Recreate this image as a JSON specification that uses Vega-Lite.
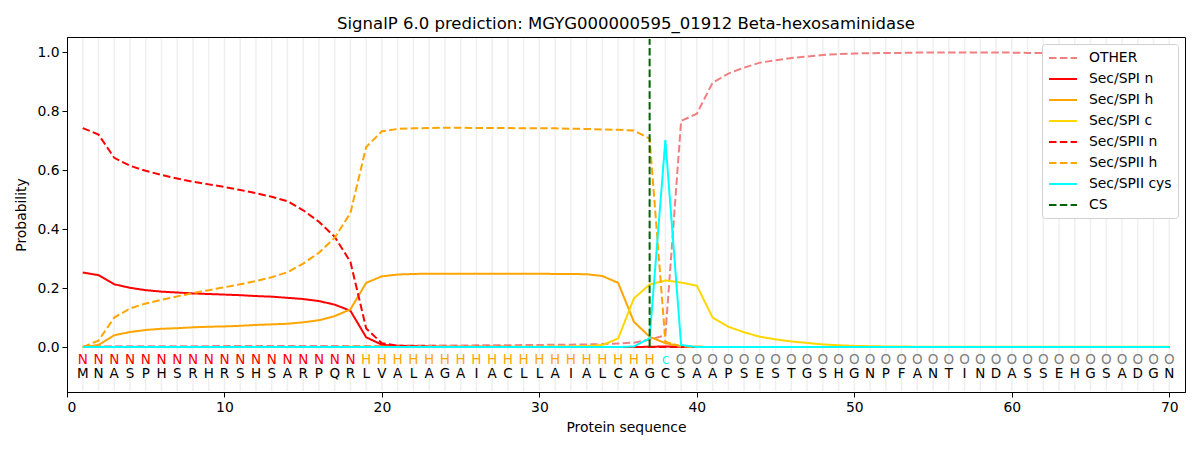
{
  "$schema": "https://vega.github.io/schema/vega-lite/v6.json",
  "width": 1118,
  "height": 355,
  "autosize": {"type": "none"},
  "padding": {"left": 67, "top": 37, "right": 15, "bottom": 58},
  "title": {
    "text": "SignalP 6.0 prediction: MGYG000000595_01912 Beta-hexosaminidase",
    "font": "DejaVu Sans",
    "fontSize": 16.5,
    "fontWeight": "normal",
    "color": "black",
    "anchor": "middle",
    "offset": 5
  },
  "data": {
    "values": [
      {"pos": 1, "aa": "M", "lab": "N", "OTHER": 0.002, "Sec/SPI n": 0.253, "Sec/SPI h": 0.0, "Sec/SPI c": 0.0, "Sec/SPII n": 0.743, "Sec/SPII h": 0.0, "Sec/SPII cys": 0.0},
      {"pos": 2, "aa": "N", "lab": "N", "OTHER": 0.003, "Sec/SPI n": 0.244, "Sec/SPI h": 0.007, "Sec/SPI c": 0.0, "Sec/SPII n": 0.721, "Sec/SPII h": 0.022, "Sec/SPII cys": 0.0},
      {"pos": 3, "aa": "A", "lab": "N", "OTHER": 0.003, "Sec/SPI n": 0.213, "Sec/SPI h": 0.040, "Sec/SPI c": 0.0, "Sec/SPII n": 0.642, "Sec/SPII h": 0.100, "Sec/SPII cys": 0.0},
      {"pos": 4, "aa": "S", "lab": "N", "OTHER": 0.003, "Sec/SPI n": 0.201, "Sec/SPI h": 0.051, "Sec/SPI c": 0.0, "Sec/SPII n": 0.615, "Sec/SPII h": 0.131, "Sec/SPII cys": 0.0},
      {"pos": 5, "aa": "P", "lab": "N", "OTHER": 0.003, "Sec/SPI n": 0.193, "Sec/SPI h": 0.058, "Sec/SPI c": 0.0, "Sec/SPII n": 0.598, "Sec/SPII h": 0.148, "Sec/SPII cys": 0.0},
      {"pos": 6, "aa": "H", "lab": "N", "OTHER": 0.003, "Sec/SPI n": 0.188, "Sec/SPI h": 0.062, "Sec/SPI c": 0.0, "Sec/SPII n": 0.584, "Sec/SPII h": 0.160, "Sec/SPII cys": 0.0},
      {"pos": 7, "aa": "S", "lab": "N", "OTHER": 0.003, "Sec/SPI n": 0.185, "Sec/SPI h": 0.064, "Sec/SPI c": 0.0, "Sec/SPII n": 0.572, "Sec/SPII h": 0.172, "Sec/SPII cys": 0.0},
      {"pos": 8, "aa": "R", "lab": "N", "OTHER": 0.003, "Sec/SPI n": 0.182, "Sec/SPI h": 0.067, "Sec/SPI c": 0.0, "Sec/SPII n": 0.561, "Sec/SPII h": 0.183, "Sec/SPII cys": 0.0},
      {"pos": 9, "aa": "H", "lab": "N", "OTHER": 0.003, "Sec/SPI n": 0.180, "Sec/SPI h": 0.069, "Sec/SPI c": 0.0, "Sec/SPII n": 0.552, "Sec/SPII h": 0.193, "Sec/SPII cys": 0.0},
      {"pos": 10, "aa": "R", "lab": "N", "OTHER": 0.004, "Sec/SPI n": 0.178, "Sec/SPI h": 0.070, "Sec/SPI c": 0.0, "Sec/SPII n": 0.543, "Sec/SPII h": 0.203, "Sec/SPII cys": 0.0},
      {"pos": 11, "aa": "S", "lab": "N", "OTHER": 0.004, "Sec/SPI n": 0.176, "Sec/SPI h": 0.072, "Sec/SPI c": 0.0, "Sec/SPII n": 0.533, "Sec/SPII h": 0.213, "Sec/SPII cys": 0.0},
      {"pos": 12, "aa": "H", "lab": "N", "OTHER": 0.004, "Sec/SPI n": 0.173, "Sec/SPI h": 0.075, "Sec/SPI c": 0.0, "Sec/SPII n": 0.522, "Sec/SPII h": 0.224, "Sec/SPII cys": 0.0},
      {"pos": 13, "aa": "S", "lab": "N", "OTHER": 0.004, "Sec/SPI n": 0.171, "Sec/SPI h": 0.077, "Sec/SPI c": 0.0, "Sec/SPII n": 0.510, "Sec/SPII h": 0.237, "Sec/SPII cys": 0.0},
      {"pos": 14, "aa": "A", "lab": "N", "OTHER": 0.004, "Sec/SPI n": 0.167, "Sec/SPI h": 0.079, "Sec/SPI c": 0.0, "Sec/SPII n": 0.495, "Sec/SPII h": 0.254, "Sec/SPII cys": 0.0},
      {"pos": 15, "aa": "R", "lab": "N", "OTHER": 0.004, "Sec/SPI n": 0.163, "Sec/SPI h": 0.084, "Sec/SPI c": 0.0, "Sec/SPII n": 0.464, "Sec/SPII h": 0.283, "Sec/SPII cys": 0.0},
      {"pos": 16, "aa": "P", "lab": "N", "OTHER": 0.004, "Sec/SPI n": 0.156, "Sec/SPI h": 0.091, "Sec/SPI c": 0.0, "Sec/SPII n": 0.425, "Sec/SPII h": 0.320, "Sec/SPII cys": 0.0},
      {"pos": 17, "aa": "Q", "lab": "N", "OTHER": 0.004, "Sec/SPI n": 0.144, "Sec/SPI h": 0.105, "Sec/SPI c": 0.0, "Sec/SPII n": 0.374, "Sec/SPII h": 0.371, "Sec/SPII cys": 0.0},
      {"pos": 18, "aa": "R", "lab": "N", "OTHER": 0.004, "Sec/SPI n": 0.123, "Sec/SPI h": 0.128, "Sec/SPI c": 0.001, "Sec/SPII n": 0.289, "Sec/SPII h": 0.455, "Sec/SPII cys": 0.0},
      {"pos": 19, "aa": "L", "lab": "H", "OTHER": 0.004, "Sec/SPI n": 0.033, "Sec/SPI h": 0.218, "Sec/SPI c": 0.001, "Sec/SPII n": 0.063, "Sec/SPII h": 0.679, "Sec/SPII cys": 0.0},
      {"pos": 20, "aa": "V", "lab": "H", "OTHER": 0.004, "Sec/SPI n": 0.008, "Sec/SPI h": 0.240, "Sec/SPI c": 0.001, "Sec/SPII n": 0.013, "Sec/SPII h": 0.732, "Sec/SPII cys": 0.0},
      {"pos": 21, "aa": "A", "lab": "H", "OTHER": 0.005, "Sec/SPI n": 0.003, "Sec/SPI h": 0.246, "Sec/SPI c": 0.001, "Sec/SPII n": 0.005, "Sec/SPII h": 0.740, "Sec/SPII cys": 0.0},
      {"pos": 22, "aa": "L", "lab": "H", "OTHER": 0.005, "Sec/SPI n": 0.001, "Sec/SPI h": 0.248, "Sec/SPI c": 0.001, "Sec/SPII n": 0.003, "Sec/SPII h": 0.742, "Sec/SPII cys": 0.0},
      {"pos": 23, "aa": "A", "lab": "H", "OTHER": 0.005, "Sec/SPI n": 0.0, "Sec/SPI h": 0.249, "Sec/SPI c": 0.001, "Sec/SPII n": 0.002, "Sec/SPII h": 0.743, "Sec/SPII cys": 0.0},
      {"pos": 24, "aa": "G", "lab": "H", "OTHER": 0.005, "Sec/SPI n": 0.0, "Sec/SPI h": 0.249, "Sec/SPI c": 0.001, "Sec/SPII n": 0.001, "Sec/SPII h": 0.744, "Sec/SPII cys": 0.0},
      {"pos": 25, "aa": "A", "lab": "H", "OTHER": 0.005, "Sec/SPI n": 0.0, "Sec/SPI h": 0.249, "Sec/SPI c": 0.001, "Sec/SPII n": 0.001, "Sec/SPII h": 0.744, "Sec/SPII cys": 0.0},
      {"pos": 26, "aa": "I", "lab": "H", "OTHER": 0.006, "Sec/SPI n": 0.0, "Sec/SPI h": 0.249, "Sec/SPI c": 0.001, "Sec/SPII n": 0.001, "Sec/SPII h": 0.743, "Sec/SPII cys": 0.0},
      {"pos": 27, "aa": "A", "lab": "H", "OTHER": 0.006, "Sec/SPI n": 0.0, "Sec/SPI h": 0.249, "Sec/SPI c": 0.001, "Sec/SPII n": 0.001, "Sec/SPII h": 0.743, "Sec/SPII cys": 0.0},
      {"pos": 28, "aa": "C", "lab": "H", "OTHER": 0.006, "Sec/SPI n": 0.0, "Sec/SPI h": 0.249, "Sec/SPI c": 0.001, "Sec/SPII n": 0.001, "Sec/SPII h": 0.743, "Sec/SPII cys": 0.0},
      {"pos": 29, "aa": "L", "lab": "H", "OTHER": 0.007, "Sec/SPI n": 0.0, "Sec/SPI h": 0.249, "Sec/SPI c": 0.001, "Sec/SPII n": 0.0, "Sec/SPII h": 0.742, "Sec/SPII cys": 0.0},
      {"pos": 30, "aa": "L", "lab": "H", "OTHER": 0.007, "Sec/SPI n": 0.0, "Sec/SPI h": 0.249, "Sec/SPI c": 0.001, "Sec/SPII n": 0.0, "Sec/SPII h": 0.742, "Sec/SPII cys": 0.0},
      {"pos": 31, "aa": "A", "lab": "H", "OTHER": 0.008, "Sec/SPI n": 0.0, "Sec/SPI h": 0.248, "Sec/SPI c": 0.002, "Sec/SPII n": 0.0, "Sec/SPII h": 0.742, "Sec/SPII cys": 0.0},
      {"pos": 32, "aa": "I", "lab": "H", "OTHER": 0.008, "Sec/SPI n": 0.0, "Sec/SPI h": 0.248, "Sec/SPI c": 0.002, "Sec/SPII n": 0.0, "Sec/SPII h": 0.741, "Sec/SPII cys": 0.0},
      {"pos": 33, "aa": "A", "lab": "H", "OTHER": 0.009, "Sec/SPI n": 0.0, "Sec/SPI h": 0.247, "Sec/SPI c": 0.003, "Sec/SPII n": 0.0, "Sec/SPII h": 0.740, "Sec/SPII cys": 0.0},
      {"pos": 34, "aa": "L", "lab": "H", "OTHER": 0.010, "Sec/SPI n": 0.0, "Sec/SPI h": 0.241, "Sec/SPI c": 0.007, "Sec/SPII n": 0.0, "Sec/SPII h": 0.738, "Sec/SPII cys": 0.0},
      {"pos": 35, "aa": "C", "lab": "H", "OTHER": 0.012, "Sec/SPI n": 0.0, "Sec/SPI h": 0.218, "Sec/SPI c": 0.029, "Sec/SPII n": 0.0, "Sec/SPII h": 0.737, "Sec/SPII cys": 0.0},
      {"pos": 36, "aa": "A", "lab": "H", "OTHER": 0.015, "Sec/SPI n": 0.0, "Sec/SPI h": 0.086, "Sec/SPI c": 0.165, "Sec/SPII n": 0.0, "Sec/SPII h": 0.735, "Sec/SPII cys": 0.002},
      {"pos": 37, "aa": "G", "lab": "H", "OTHER": 0.025, "Sec/SPI n": 0.001, "Sec/SPI h": 0.035, "Sec/SPI c": 0.212, "Sec/SPII n": 0.0, "Sec/SPII h": 0.707, "Sec/SPII cys": 0.030},
      {"pos": 38, "aa": "C", "lab": "c", "OTHER": 0.040, "Sec/SPI n": 0.002, "Sec/SPI h": 0.013, "Sec/SPI c": 0.226, "Sec/SPII n": 0.0, "Sec/SPII h": 0.018, "Sec/SPII cys": 0.702},
      {"pos": 39, "aa": "S", "lab": "O", "OTHER": 0.767, "Sec/SPI n": 0.001, "Sec/SPI h": 0.003, "Sec/SPI c": 0.219, "Sec/SPII n": 0.0, "Sec/SPII h": 0.002, "Sec/SPII cys": 0.007},
      {"pos": 40, "aa": "A", "lab": "O", "OTHER": 0.792, "Sec/SPI n": 0.0, "Sec/SPI h": 0.001, "Sec/SPI c": 0.208, "Sec/SPII n": 0.0, "Sec/SPII h": 0.001, "Sec/SPII cys": 0.0},
      {"pos": 41, "aa": "A", "lab": "O", "OTHER": 0.897, "Sec/SPI n": 0.0, "Sec/SPI h": 0.0, "Sec/SPI c": 0.100, "Sec/SPII n": 0.0, "Sec/SPII h": 0.0, "Sec/SPII cys": 0.0},
      {"pos": 42, "aa": "P", "lab": "O", "OTHER": 0.928, "Sec/SPI n": 0.0, "Sec/SPI h": 0.0, "Sec/SPI c": 0.069, "Sec/SPII n": 0.0, "Sec/SPII h": 0.0, "Sec/SPII cys": 0.0},
      {"pos": 43, "aa": "S", "lab": "O", "OTHER": 0.948, "Sec/SPI n": 0.0, "Sec/SPI h": 0.0, "Sec/SPI c": 0.050, "Sec/SPII n": 0.0, "Sec/SPII h": 0.0, "Sec/SPII cys": 0.0},
      {"pos": 44, "aa": "E", "lab": "O", "OTHER": 0.965, "Sec/SPI n": 0.0, "Sec/SPI h": 0.0, "Sec/SPI c": 0.035, "Sec/SPII n": 0.0, "Sec/SPII h": 0.0, "Sec/SPII cys": 0.0},
      {"pos": 45, "aa": "S", "lab": "O", "OTHER": 0.973, "Sec/SPI n": 0.0, "Sec/SPI h": 0.0, "Sec/SPI c": 0.026, "Sec/SPII n": 0.0, "Sec/SPII h": 0.0, "Sec/SPII cys": 0.0},
      {"pos": 46, "aa": "T", "lab": "O", "OTHER": 0.981, "Sec/SPI n": 0.0, "Sec/SPI h": 0.0, "Sec/SPI c": 0.019, "Sec/SPII n": 0.0, "Sec/SPII h": 0.0, "Sec/SPII cys": 0.0},
      {"pos": 47, "aa": "G", "lab": "O", "OTHER": 0.986, "Sec/SPI n": 0.0, "Sec/SPI h": 0.0, "Sec/SPI c": 0.014, "Sec/SPII n": 0.0, "Sec/SPII h": 0.0, "Sec/SPII cys": 0.0},
      {"pos": 48, "aa": "S", "lab": "O", "OTHER": 0.991, "Sec/SPI n": 0.0, "Sec/SPI h": 0.0, "Sec/SPI c": 0.009, "Sec/SPII n": 0.0, "Sec/SPII h": 0.0, "Sec/SPII cys": 0.0},
      {"pos": 49, "aa": "H", "lab": "O", "OTHER": 0.994, "Sec/SPI n": 0.0, "Sec/SPI h": 0.0, "Sec/SPI c": 0.006, "Sec/SPII n": 0.0, "Sec/SPII h": 0.0, "Sec/SPII cys": 0.0},
      {"pos": 50, "aa": "G", "lab": "O", "OTHER": 0.996, "Sec/SPI n": 0.0, "Sec/SPI h": 0.0, "Sec/SPI c": 0.004, "Sec/SPII n": 0.0, "Sec/SPII h": 0.0, "Sec/SPII cys": 0.0},
      {"pos": 51, "aa": "N", "lab": "O", "OTHER": 0.997, "Sec/SPI n": 0.0, "Sec/SPI h": 0.0, "Sec/SPI c": 0.003, "Sec/SPII n": 0.0, "Sec/SPII h": 0.0, "Sec/SPII cys": 0.0},
      {"pos": 52, "aa": "P", "lab": "O", "OTHER": 0.998, "Sec/SPI n": 0.0, "Sec/SPI h": 0.0, "Sec/SPI c": 0.002, "Sec/SPII n": 0.0, "Sec/SPII h": 0.0, "Sec/SPII cys": 0.0},
      {"pos": 53, "aa": "F", "lab": "O", "OTHER": 0.998, "Sec/SPI n": 0.0, "Sec/SPI h": 0.0, "Sec/SPI c": 0.002, "Sec/SPII n": 0.0, "Sec/SPII h": 0.0, "Sec/SPII cys": 0.0},
      {"pos": 54, "aa": "A", "lab": "O", "OTHER": 0.999, "Sec/SPI n": 0.0, "Sec/SPI h": 0.0, "Sec/SPI c": 0.001, "Sec/SPII n": 0.0, "Sec/SPII h": 0.0, "Sec/SPII cys": 0.0},
      {"pos": 55, "aa": "N", "lab": "O", "OTHER": 0.999, "Sec/SPI n": 0.0, "Sec/SPI h": 0.0, "Sec/SPI c": 0.001, "Sec/SPII n": 0.0, "Sec/SPII h": 0.0, "Sec/SPII cys": 0.0},
      {"pos": 56, "aa": "T", "lab": "O", "OTHER": 0.999, "Sec/SPI n": 0.0, "Sec/SPI h": 0.0, "Sec/SPI c": 0.001, "Sec/SPII n": 0.0, "Sec/SPII h": 0.0, "Sec/SPII cys": 0.0},
      {"pos": 57, "aa": "I", "lab": "O", "OTHER": 0.999, "Sec/SPI n": 0.0, "Sec/SPI h": 0.0, "Sec/SPI c": 0.001, "Sec/SPII n": 0.0, "Sec/SPII h": 0.0, "Sec/SPII cys": 0.0},
      {"pos": 58, "aa": "N", "lab": "O", "OTHER": 0.999, "Sec/SPI n": 0.0, "Sec/SPI h": 0.0, "Sec/SPI c": 0.001, "Sec/SPII n": 0.0, "Sec/SPII h": 0.0, "Sec/SPII cys": 0.0},
      {"pos": 59, "aa": "D", "lab": "O", "OTHER": 0.999, "Sec/SPI n": 0.0, "Sec/SPI h": 0.0, "Sec/SPI c": 0.001, "Sec/SPII n": 0.0, "Sec/SPII h": 0.0, "Sec/SPII cys": 0.0},
      {"pos": 60, "aa": "A", "lab": "O", "OTHER": 0.999, "Sec/SPI n": 0.0, "Sec/SPI h": 0.0, "Sec/SPI c": 0.001, "Sec/SPII n": 0.0, "Sec/SPII h": 0.0, "Sec/SPII cys": 0.0},
      {"pos": 61, "aa": "S", "lab": "O", "OTHER": 0.998, "Sec/SPI n": 0.0, "Sec/SPI h": 0.0, "Sec/SPI c": 0.001, "Sec/SPII n": 0.0, "Sec/SPII h": 0.0, "Sec/SPII cys": 0.0},
      {"pos": 62, "aa": "S", "lab": "O", "OTHER": 0.998, "Sec/SPI n": 0.0, "Sec/SPI h": 0.0, "Sec/SPI c": 0.001, "Sec/SPII n": 0.0, "Sec/SPII h": 0.0, "Sec/SPII cys": 0.0},
      {"pos": 63, "aa": "E", "lab": "O", "OTHER": 0.998, "Sec/SPI n": 0.0, "Sec/SPI h": 0.0, "Sec/SPI c": 0.001, "Sec/SPII n": 0.0, "Sec/SPII h": 0.0, "Sec/SPII cys": 0.0},
      {"pos": 64, "aa": "H", "lab": "O", "OTHER": 0.998, "Sec/SPI n": 0.0, "Sec/SPI h": 0.0, "Sec/SPI c": 0.001, "Sec/SPII n": 0.0, "Sec/SPII h": 0.0, "Sec/SPII cys": 0.0},
      {"pos": 65, "aa": "G", "lab": "O", "OTHER": 0.998, "Sec/SPI n": 0.0, "Sec/SPI h": 0.0, "Sec/SPI c": 0.001, "Sec/SPII n": 0.0, "Sec/SPII h": 0.0, "Sec/SPII cys": 0.0},
      {"pos": 66, "aa": "S", "lab": "O", "OTHER": 0.999, "Sec/SPI n": 0.0, "Sec/SPI h": 0.0, "Sec/SPI c": 0.001, "Sec/SPII n": 0.0, "Sec/SPII h": 0.0, "Sec/SPII cys": 0.0},
      {"pos": 67, "aa": "A", "lab": "O", "OTHER": 0.999, "Sec/SPI n": 0.0, "Sec/SPI h": 0.0, "Sec/SPI c": 0.001, "Sec/SPII n": 0.0, "Sec/SPII h": 0.0, "Sec/SPII cys": 0.0},
      {"pos": 68, "aa": "D", "lab": "O", "OTHER": 0.999, "Sec/SPI n": 0.0, "Sec/SPI h": 0.0, "Sec/SPI c": 0.001, "Sec/SPII n": 0.0, "Sec/SPII h": 0.0, "Sec/SPII cys": 0.0},
      {"pos": 69, "aa": "G", "lab": "O", "OTHER": 0.999, "Sec/SPI n": 0.0, "Sec/SPI h": 0.0, "Sec/SPI c": 0.001, "Sec/SPII n": 0.0, "Sec/SPII h": 0.0, "Sec/SPII cys": 0.0},
      {"pos": 70, "aa": "N", "lab": "O", "OTHER": 0.999, "Sec/SPI n": 0.0, "Sec/SPI h": 0.0, "Sec/SPI c": 0.001, "Sec/SPII n": 0.0, "Sec/SPII h": 0.0, "Sec/SPII cys": 0.0}
    ]
  },
  "layer": [
    {
      "mark": {"type": "rule", "color": "#efefef", "strokeWidth": 1.5},
      "encoding": {
        "x": {"field": "pos", "type": "quantitative"},
        "y": {"datum": -0.149},
        "y2": {"datum": 1.049}
      }
    },
    {
      "transform": [
        {
          "fold": ["OTHER", "Sec/SPI n", "Sec/SPI h", "Sec/SPI c", "Sec/SPII n", "Sec/SPII h", "Sec/SPII cys"],
          "as": ["series", "p"]
        }
      ],
      "mark": {"type": "line", "strokeWidth": 2},
      "encoding": {
        "x": {
          "field": "pos",
          "type": "quantitative",
          "scale": {"domain": [0, 71], "nice": false, "zero": false},
          "axis": {"values": [0, 10, 20, 30, 40, 50, 60, 70], "title": "Protein sequence"}
        },
        "y": {
          "field": "p",
          "type": "quantitative",
          "scale": {"domain": [-0.1525, 1.052], "nice": false, "zero": false},
          "axis": {"values": [0, 0.2, 0.4, 0.6, 0.8, 1.0], "format": ".1f", "title": "Probability"}
        },
        "color": {
          "field": "series",
          "type": "nominal",
          "scale": {
            "domain": ["OTHER", "Sec/SPI n", "Sec/SPI h", "Sec/SPI c", "Sec/SPII n", "Sec/SPII h", "Sec/SPII cys", "CS"],
            "range": ["#f08080", "#ff0000", "#ffa500", "#ffd700", "#ff0000", "#ffa500", "#00ffff", "#006400"]
          },
          "legend": {
            "title": null,
            "orient": "top-right",
            "offset": 7,
            "symbolType": "M-1,0H3",
            "symbolSize": 196,
            "symbolStrokeWidth": 2,
            "labelOffset": 25,
            "rowPadding": 6,
            "padding": 6,
            "fillColor": "white",
            "strokeColor": "#d0d0d0",
            "cornerRadius": 3,
            "labelFont": "DejaVu Sans",
            "labelFontSize": 13.9,
            "labelColor": "black"
          }
        },
        "strokeDash": {
          "field": "series",
          "type": "nominal",
          "scale": {
            "domain": ["OTHER", "Sec/SPI n", "Sec/SPI h", "Sec/SPI c", "Sec/SPII n", "Sec/SPII h", "Sec/SPII cys", "CS"],
            "range": [[7.5, 3.3], [1, 0], [1, 0], [1, 0], [7.5, 3.3], [7.5, 3.3], [1, 0], [7.5, 3.3]]
          },
          "legend": {
            "title": null,
            "orient": "top-right",
            "offset": 7,
            "symbolType": "M-1,0H3",
            "symbolSize": 196,
            "symbolStrokeWidth": 2,
            "labelOffset": 25,
            "rowPadding": 6,
            "padding": 6,
            "fillColor": "white",
            "strokeColor": "#d0d0d0",
            "cornerRadius": 3,
            "labelFont": "DejaVu Sans",
            "labelFontSize": 13.9,
            "labelColor": "black"
          }
        }
      }
    },
    {
      "data": {"values": [{"series": "CS", "pos": 37}]},
      "mark": {"type": "rule", "strokeWidth": 2},
      "encoding": {
        "x": {"field": "pos", "type": "quantitative"},
        "y": {"datum": 0},
        "y2": {"datum": 1.045},
        "color": {"field": "series", "type": "nominal"},
        "strokeDash": {"field": "series", "type": "nominal"}
      }
    },
    {
      "mark": {"type": "text", "font": "DejaVu Sans", "fontSize": 13.5, "baseline": "middle", "align": "center"},
      "encoding": {
        "x": {"field": "pos", "type": "quantitative"},
        "y": {"datum": -0.045},
        "text": {"field": "lab"},
        "color": {
          "condition": [
            {"test": "datum.lab === 'N'", "value": "#ff0000"},
            {"test": "datum.lab === 'H'", "value": "#ffa500"},
            {"test": "datum.lab === 'c'", "value": "#00ffff"}
          ],
          "value": "#808080"
        }
      }
    },
    {
      "mark": {"type": "text", "font": "DejaVu Sans", "fontSize": 13.5, "baseline": "middle", "align": "center", "color": "black"},
      "encoding": {
        "x": {"field": "pos", "type": "quantitative"},
        "y": {"datum": -0.093},
        "text": {"field": "aa"}
      }
    }
  ],
  "config": {
    "view": {"stroke": "black", "strokeWidth": 1},
    "axis": {
      "grid": false,
      "domainColor": "black",
      "tickColor": "black",
      "tickSize": 5,
      "labelColor": "black",
      "labelFont": "DejaVu Sans",
      "labelFontSize": 13.9,
      "labelPadding": 3,
      "titleFont": "DejaVu Sans",
      "titleFontSize": 13.9,
      "titleFontWeight": "normal",
      "titleColor": "black"
    },
    "axisX": {"titlePadding": 7},
    "axisY": {"titlePadding": 8}
  }
}
